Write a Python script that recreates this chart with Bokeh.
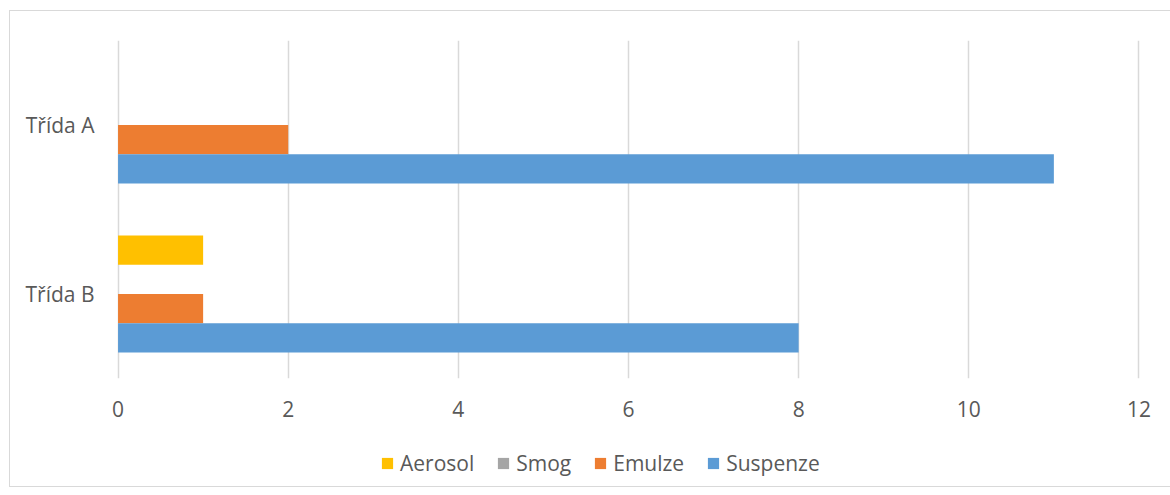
from bokeh.plotting import figure
from bokeh.layouts import column
from bokeh.models import FactorRange, Range1d, FixedTicker, Legend, LegendItem, ColumnDataSource
from bokeh.transform import dodge
from bokeh.embed import file_html
from bokeh.resources import INLINE

categories = ["Třída A", "Třída B"]
series = ["Aerosol", "Smog", "Emulze", "Suspenze"]
aerosol = [0, 1]
smog = [0, 0]
emulze = [2, 1]
suspenze = [11, 8]
colors = ["#FFC000", "#A5A5A5", "#ED7D31", "#5B9BD5"]
x_ticks = [0, 2, 4, 6, 8, 10, 12]

FONT = "Open Sans"
TXT = "#595959"

src = ColumnDataSource(dict(cat=categories, Aerosol=aerosol, Smog=smog, Emulze=emulze, Suspenze=suspenze))

p = figure(
    y_range=FactorRange(factors=categories[::-1]),
    x_range=Range1d(-0.03, 12.03),
    frame_width=1026, frame_height=338,
    min_border_left=105, min_border_right=30, min_border_top=29, min_border_bottom=60,
    output_backend="svg", toolbar_location=None,
)

h = 0.1734
offsets = [1.5 * h, 0.5 * h, -0.5 * h, -1.5 * h]
for name, col, off in zip(series, colors, offsets):
    p.hbar(y=dodge("cat", off, range=p.y_range), left=0, right=name, height=h,
           source=src, fill_color=col, line_color=None)

p.xaxis.ticker = FixedTicker(ticks=x_ticks)
p.xaxis.axis_line_color = None
p.xaxis.major_tick_line_color = None
p.xaxis.minor_tick_line_color = None
p.xaxis.major_label_standoff = 16
p.xaxis.major_label_text_font = FONT
p.xaxis.major_label_text_font_size = "21px"
p.xaxis.major_label_text_color = TXT

p.yaxis.axis_line_color = None
p.yaxis.major_tick_line_color = None
p.yaxis.minor_tick_line_color = None
p.yaxis.major_label_standoff = 15
p.yaxis.major_label_text_font = FONT
p.yaxis.major_label_text_font_size = "21px"
p.yaxis.major_label_text_color = TXT

p.ygrid.grid_line_color = None
p.xgrid.grid_line_color = "#D9D9D9"
p.xgrid.grid_line_width = 1.5
p.outline_line_color = None

# legend strip below the chart (its bars fall outside its visible range)
lg = figure(width=1161, height=48, x_range=Range1d(100, 101), y_range=Range1d(100, 101),
            x_axis_type=None, y_axis_type=None, min_border=0,
            output_backend="svg", toolbar_location=None)
lg.outline_line_color = None
lg.grid.visible = False
items = []
for name, col in zip(series, colors):
    r = lg.hbar(y=name, left=0, right=name, height=0.5, source=src,
                fill_color=col, line_color=None)
    items.append(LegendItem(label=name, renderers=[r]))

legend = Legend(items=items, orientation="horizontal", location=(265, 9),
                glyph_width=14, glyph_height=14, label_standoff=6, spacing=22,
                padding=0, margin=0, border_line_color=None, background_fill_alpha=0,
                label_text_font=FONT, label_text_font_size="21px", label_text_color=TXT)
lg.add_layout(legend, "center")

layout = column(p, lg, spacing=0)
layout.margin = (10, 0, 0, 9)
layout.styles = {"border": "1px solid #D9D9D9"}

open("out.html", "w").write(file_html(layout, INLINE))
